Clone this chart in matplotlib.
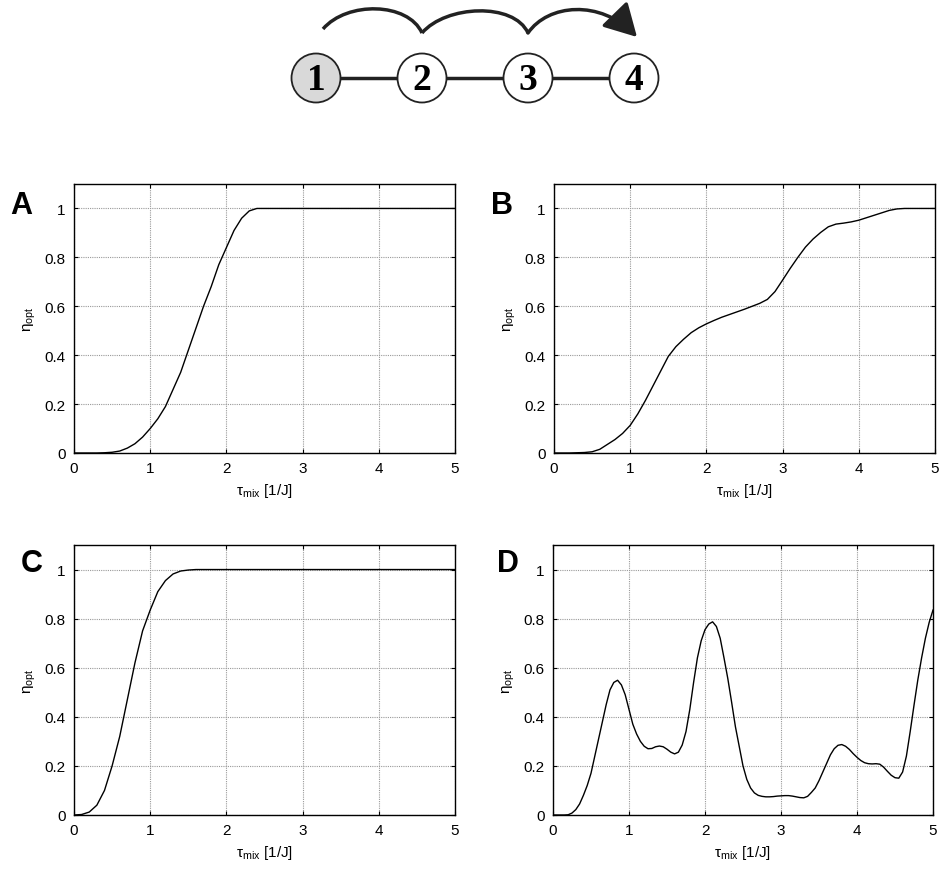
import numpy as np
import matplotlib
matplotlib.use('Agg')
import matplotlib.pyplot as plt
from matplotlib.patches import Circle, FancyArrowPatch, PathPatch
from matplotlib.path import Path

plt.rcParams['font.family'] = ['Liberation Sans', 'DejaVu Sans']
plt.rcParams['mathtext.fontset'] = 'custom'
plt.rcParams['mathtext.rm'] = 'Liberation Sans'
plt.rcParams['mathtext.it'] = 'Liberation Sans:italic'

# --- data ---
tau = np.round(np.arange(0, 5.01, 0.1), 2)
tau_fine = np.round(np.arange(0, 5.001, 0.05), 3)

eta_a = [0, 0, 0, 0, 0.001, 0.003, 0.008, 0.02, 0.038, 0.065,
         0.10, 0.14, 0.19, 0.26, 0.33, 0.42, 0.51, 0.60, 0.68, 0.77,
         0.84, 0.91, 0.96, 0.99, 1.0, 1.0, 1.0, 1.0, 1.0, 1.0,
         1.0, 1.0, 1.0, 1.0, 1.0, 1.0, 1.0, 1.0, 1.0, 1.0,
         1.0, 1.0, 1.0, 1.0, 1.0, 1.0, 1.0, 1.0, 1.0, 1.0, 1.0]

eta_b = [0, 0, 0, 0.001, 0.002, 0.005, 0.015, 0.035, 0.055, 0.08,
         0.113, 0.16, 0.215, 0.275, 0.335, 0.395, 0.435, 0.465, 0.492, 0.512,
         0.528, 0.542, 0.555, 0.566, 0.577, 0.588, 0.600, 0.612, 0.628, 0.660,
         0.707, 0.755, 0.80, 0.842, 0.875, 0.902, 0.925, 0.936, 0.940, 0.945,
         0.952, 0.962, 0.972, 0.982, 0.992, 0.998, 1.0, 1.0, 1.0, 1.0, 1.0]

eta_c = [0, 0.002, 0.012, 0.04, 0.10, 0.20, 0.32, 0.47, 0.62, 0.75,
         0.835, 0.91, 0.955, 0.982, 0.994, 0.998, 1.0, 1.0, 1.0, 1.0,
         1.0, 1.0, 1.0, 1.0, 1.0, 1.0, 1.0, 1.0, 1.0, 1.0,
         1.0, 1.0, 1.0, 1.0, 1.0, 1.0, 1.0, 1.0, 1.0, 1.0,
         1.0, 1.0, 1.0, 1.0, 1.0, 1.0, 1.0, 1.0, 1.0, 1.0, 1.0]

eta_d = [0, 0, 0, 0, 0.001, 0.008, 0.022, 0.045, 0.08, 0.12,
         0.17, 0.24, 0.31, 0.38, 0.45, 0.51, 0.54, 0.549, 0.53, 0.49,
         0.43, 0.37, 0.33, 0.30, 0.28, 0.27, 0.271, 0.278, 0.281, 0.278,
         0.268, 0.256, 0.249, 0.256, 0.285, 0.34, 0.43, 0.54, 0.64, 0.71,
         0.755, 0.778, 0.787, 0.768, 0.72, 0.64, 0.556, 0.46, 0.36, 0.28,
         0.20, 0.145, 0.11, 0.09, 0.08, 0.076, 0.074, 0.074, 0.075, 0.077,
         0.078, 0.079, 0.079, 0.077, 0.074, 0.071, 0.070, 0.076, 0.092, 0.11,
         0.14, 0.175, 0.21, 0.245, 0.27, 0.284, 0.287, 0.28, 0.267, 0.25,
         0.235, 0.222, 0.213, 0.209, 0.208, 0.209, 0.207, 0.195, 0.178, 0.162,
         0.152, 0.15, 0.175, 0.24, 0.34, 0.447, 0.55, 0.64, 0.72, 0.785, 0.835]

panel_labels = ['A', 'B', 'C', 'D']
y_ticks = [0, 0.2, 0.4, 0.6, 0.8, 1.0]
y_ticklabels = ['0', '0.2', '0.4', '0.6', '0.8', '1']
x_ticks = [0, 1, 2, 3, 4, 5]
node_labels = ['1', '2', '3', '4']

W, H = 941, 870
fig = plt.figure(figsize=(W / 100, H / 100), dpi=100)

# axes boxes in pixels: left, top, right, bottom
boxes = [(74, 185, 455, 454), (554, 185, 935, 454),
         (74, 546, 455, 816), (553, 546, 933, 816)]
label_pos = [(10, 214), (491, 214), (21, 572), (497, 572)]
series = [(tau, eta_a), (tau, eta_b), (tau, eta_c), (tau_fine, eta_d)]

for (l, t, r, b), (xs, ys), lab, (lx, ly) in zip(boxes, series, panel_labels, label_pos):
    ax = fig.add_axes([l / W, 1 - b / H, (r - l) / W, (b - t) / H])
    ax.plot(xs, ys, color='black', lw=1.0)
    ax.set_xlim(0, 5)
    ax.set_ylim(0, 1.1)
    ax.set_xticks(x_ticks)
    ax.set_yticks(y_ticks)
    ax.set_yticklabels(y_ticklabels)
    ax.tick_params(direction='in', length=3, width=0.8, labelsize=11,
                   top=True, right=True, pad=6)
    ax.grid(True, color='#999999', lw=0.8, linestyle=(0, (1, 1)))
    for s in ax.spines.values():
        s.set_linewidth(1.0)
    ax.set_xlabel(r'τ$_{\mathrm{mix}}$ [1/J]', fontsize=11, labelpad=4)
    ax.set_ylabel(r'η$_{\mathrm{opt}}$', fontsize=11, labelpad=5)
    fig.text(lx / W, 1 - ly / H, lab, fontsize=22, fontweight='bold',
             ha='left', va='baseline')

# chain diagram on top
dax = fig.add_axes([0, 0, 1, 1])
dax.set_xlim(0, W)
dax.set_ylim(H, 0)
dax.axis('off')

cx0, dx, cy, rad = 316, 106, 79, 24.5
centers = [cx0 + i * dx for i in range(len(node_labels))]
for i in range(len(centers) - 1):
    dax.plot([centers[i] + rad, centers[i + 1] - rad], [cy, cy], color='#222222', lw=2.5,
             solid_capstyle='butt')
for i, (c, lab) in enumerate(zip(centers, node_labels)):
    fc = '#d9d9d9' if i == 0 else 'white'
    dax.add_patch(Circle((c, cy), rad, facecolor=fc, edgecolor='#222222', lw=1.3, zorder=3))
    dax.text(c, cy + 1.5, lab, ha='center', va='center', fontsize=27, fontweight='bold',
             family='Liberation Serif', zorder=4)

# hopping arcs (cubic curves)
arc_pts = [(323, 30), (422, 34), (528, 34)]
for (x0, y0), (x1, y1) in zip(arc_pts[:-1], arc_pts[1:]):
    p = Path([(x0, y0), (x0 + 24, y0 - 28), (x1 - 14, y1 - 31), (x1, y1)],
             [Path.MOVETO, Path.CURVE4, Path.CURVE4, Path.CURVE4])
    dax.add_patch(PathPatch(p, fill=False, color='#222222', lw=2.5))
p = Path([(528, 34), (548, 5), (600, 0), (637, 38)],
         [Path.MOVETO, Path.CURVE4, Path.CURVE4, Path.CURVE4])
dax.add_patch(FancyArrowPatch(path=p, arrowstyle='-|>,head_length=0.9,head_width=0.5',
                              mutation_scale=22, color='#222222', lw=2.5))

fig.savefig('out.png', dpi=100)
